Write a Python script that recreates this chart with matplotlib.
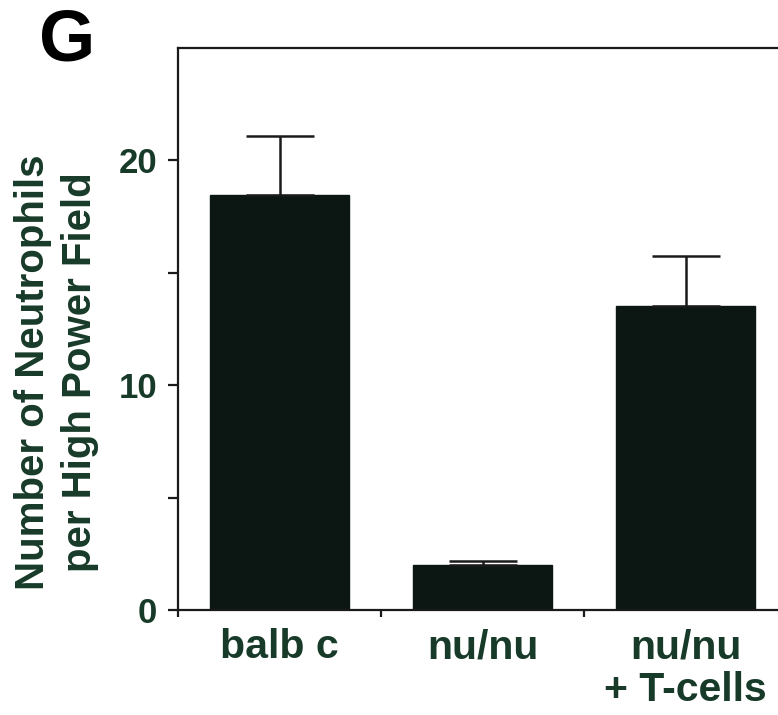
import matplotlib.pyplot as plt
import numpy as np

plt.rcParams['font.family'] = ['Liberation Sans', 'DejaVu Sans']
plt.rcParams['font.weight'] = 'bold'

groups = ['balb c', 'nu/nu', 'nu/nu\n+ T-cells']
means = [18.45, 2.0, 13.5]
upper_err = [2.65, 0.2, 2.25]
yticks = [0, 5, 10, 15, 20]
ytick_labels = ['0', '', '10', '', '20']

green = '#173a29'
bar_color = '#0c1714'

fig = plt.figure(figsize=(7.78, 7.15), dpi=100)
ax = fig.add_axes([0.2288, 0.1469, 1.012 - 0.2288, 0.9329 - 0.1469])

x = np.arange(len(groups))
ax.bar(x, means, width=0.685, color=bar_color, edgecolor=bar_color, zorder=2)
ax.errorbar(x, means, yerr=[np.zeros(len(means)), upper_err], fmt='none',
            ecolor='#1a1a1a', elinewidth=1.8, capsize=24.5, capthick=1.8, zorder=3)

ax.set_xlim(-0.5, 2.5)
ax.set_ylim(0, 25)

ax.spines['right'].set_visible(False)
for s in ['left', 'bottom', 'top']:
    ax.spines[s].set_linewidth(1.6)
    ax.spines[s].set_color('#1a1a1a')

ax.set_yticks(yticks)
ax.set_yticklabels(ytick_labels)
ax.tick_params(axis='y', direction='out', length=7, width=1.6, pad=8,
               labelsize=25, labelcolor=green, color='#1a1a1a')

ax.set_xticks([-0.5, 0.5, 1.5])
ax.set_xticklabels(['', '', ''])
ax.tick_params(axis='x', which='major', direction='out', length=5, width=1.6, color='#1a1a1a')
ax.set_xticks(x, minor=True)
ax.set_xticklabels(groups, minor=True)
ax.tick_params(axis='x', which='minor', length=0, pad=13, labelsize=29.5, labelcolor=green)
for lab in ax.get_xticklabels(minor=True):
    lab.set_linespacing(1.15)

fig.text(0.072, 0.48, 'Number of Neutrophils\nper High Power Field', rotation=90,
         ha='center', va='center', fontsize=29, color=green, linespacing=1.3,
         multialignment='center')
fig.text(0.05, 0.99, 'G', fontsize=52, color='black', ha='left', va='top')

plt.savefig('out.png', dpi=100)
